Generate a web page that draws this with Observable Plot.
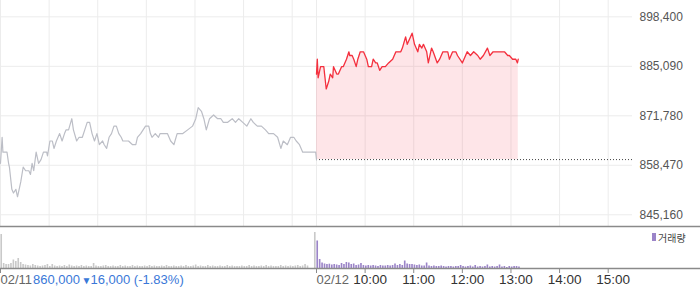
<!DOCTYPE html>
<html><head><meta charset="utf-8">
<script src="https://cdn.jsdelivr.net/npm/d3@7"></script>
<script src="https://cdn.jsdelivr.net/npm/@observablehq/plot@0.6"></script>
<style>
body{margin:0;background:#fff;}
#wrap{position:relative;width:700px;height:289px;overflow:hidden;}
#wrap svg{display:block;}
#legend{position:absolute;left:652px;top:231px;height:12px;display:flex;align-items:center;font:10px "Noto Sans CJK KR",sans-serif;color:#444;}
#legend i{display:inline-block;width:4px;height:8px;background:#9b84c8;margin-right:2px;}
</style></head><body><div id="wrap"></div>
<script>
// Previous close and price-axis ticks
const prevClose = 860000;
const yTicks = [845160, 858470, 871780, 885090, 898400];

// Day 1 (02/11): minutes after 09:00, price
const day1Min = [0,2,3,5,8,10,11,14,16,19,
 21,23,25,28,31,35,37,39,41,44,
 47,50,53,57,58,61,64,66,69,73,
 76,79,81,84,88,90,94,97,101,104,
 107,110,113,116,119,122,126,128,131,134,
 137,140,143,146,149,151,154,158,163,167,
 169,173,176,179,183,185,187,191,195,197,
 200,206,210,214,218,225,231,237,241,244,
 248,251,254,258,263,268,272,275,280,286,
 290,294,299,304,309,312,317,322,327,331,
 337,342,346,349,354,358,362,365,369,373,
 376,383,389,390];
const day1Price = [859000,866000,862000,862000,862000,859000,858000,852000,851000,852000,
 850000,852000,854000,858000,857000,857000,856000,859000,857000,862000,
 859000,860000,862000,862000,861000,865000,865000,863000,865000,867000,
 865000,867000,868000,868000,871000,868000,865000,866000,866000,868000,
 870000,870000,867000,865000,867000,864000,865000,864000,863000,866000,
 867000,869000,869000,867000,866000,865000,865000,865000,864000,864000,
 866000,867000,868000,869000,869000,867000,866000,867000,866000,867000,
 867000,867000,865000,864000,867000,867000,868000,869000,871000,874000,
 873000,871000,868000,871000,872000,871000,871000,870000,870000,871000,
 870000,871000,870000,869000,871000,870000,869000,869000,868000,867000,
 867000,866000,863000,865000,864000,866000,866000,865000,864000,862000,
 862000,862000,862000,860000];

// Day 2 (02/12): minutes after 09:00, price
const day2Min = [0,1,2,5,9,10,12,15,17,20,
 21,25,27,31,33,37,40,41,44,46,
 49,51,54,58,62,64,68,70,73,75,
 78,81,85,89,94,98,100,104,106,110,
 112,116,118,121,125,127,130,132,136,138,
 142,144,149,152,156,158,162,164,168,172,
 174,180,184,186,190,194,199,202,206,211,
 214,218,223,227,232,236,238,242,246,248,
 249];
const day2Price = [883000,887000,882000,885000,885000,883000,879000,881000,883000,882000,
 885000,883000,883000,885000,885000,887000,889000,888000,888000,887000,
 885000,887000,889000,889000,887000,885000,885000,887000,886000,886000,
 884000,885000,885000,886000,887000,889000,889000,889000,890000,893000,
 891000,893000,894000,891000,889000,891000,890000,891000,889000,886000,
 890000,889000,886000,887000,889000,889000,889000,887000,889000,889000,
 888000,886000,888000,889000,888000,889000,888000,887000,888000,890000,
 888000,889000,889000,889000,889000,888000,888000,887000,887000,886000,
 887000];

// Volume in 3-minute bins from 09:00 (thousand shares)
const day1Vol = [34,5,4,4,5,8.5,7,10,6,4,
 3.5,3,2.5,4,3,2.5,2,2.5,3,4,
 2,4,2.5,2,2.5,2,3,2,3.5,2.5,
 2,2.5,2,3,2,2.5,2,2,5,2.5,
 2,2,2.5,3,2,2,2.5,2,2,3,
 2,2.5,2,2,3,2,2.5,2,2,2.5,
 2,3,2,2.5,2,2,2.5,2,3,2,
 2,2.5,2,2,2.5,2,3,2,2,2.5,
 3.5,2,2.5,2,2,3,2,2.5,2,2,
 2.5,2,2,3,2,2.5,2,2,2,2.5,
 2,2,3,2,2.5,2,2,2.5,2,3,
 2,2.5,2,2,2,3,2,2.5,2,2.5,
 2,2.5,3,2,2.5,4,2.5,0,0,36];
const day2Vol = [27.5,9,5.5,4.5,4,4.3,3.5,4,3.5,3,
 5,4,6,5.5,4,4.5,3,3.5,5,3,
 2.5,3,2.5,3,2.5,2,3,2.5,2.5,3,
 2.5,3,4.5,3,4,3,7.5,4.5,4,4,
 3.5,3,3.5,2.5,2.5,5.5,2.5,2,2.5,2,
 2,2.5,2,1.5,2,2,1.5,2,2,3,
 2,1.5,2,2.5,1.5,3,1.5,2,1.5,2,
 3.5,1.5,2,1.5,2,3.5,1.5,2,1,2,
 1.5,2,2,1.5];

// Time axis
const dateTicks = [0, 390];
const dateLabels = ["02/11", "02/12"];
const timeTicks = [450, 510, 570, 630, 690, 750];
const timeLabels = ["10:00", "11:00", "12:00", "13:00", "14:00", "15:00"];
const gridMinutes = [0, 60, 120, 180, 240, 300, 360, 390, 450, 510, 570, 630, 690, 750];
const dayInfo = ["860,000", "▼", "16,000 (-1.83%)"];

const d1 = day1Min.map((m, i) => ({x: m, p: day1Price[i]}));
const d2 = day2Min.map((m, i) => ({x: 390 + m, p: day2Price[i]}));
const v1 = day1Vol.map((v, i) => ({x1: i * 3, x2: i * 3 + 3, v}));
const v2 = day2Vol.map((v, i) => ({x1: 390 + i * 3, x2: 390 + i * 3 + 3, v}));

const font = "'Liberation Sans', Arial, sans-serif";

const main = Plot.plot({
  width: 700, height: 227,
  marginLeft: 0, marginRight: 68, marginTop: 0, marginBottom: 1,
  style: {fontFamily: font, fontSize: "12px", background: "transparent", overflow: "visible"},
  x: {domain: [0, 780], axis: null},
  y: {domain: [842000, 902800], axis: null},
  marks: [
    Plot.ruleX(gridMinutes, {stroke: "#ececec"}),
    Plot.ruleY(yTicks, {stroke: "#ececec"}),
    Plot.areaY(d2, {x: "x", y1: () => prevClose, y2: "p", fill: "#f53246", fillOpacity: 0.127}),
    Plot.ruleY([{y: prevClose, a: 390, b: 780}], {y: "y", x1: "a", x2: "b", stroke: "#444", strokeDasharray: "1,2"}),
    Plot.line(d1, {x: "x", y: "p", stroke: "#bcbec6", strokeWidth: 1.2}),
    Plot.line(d2, {x: "x", y: "p", stroke: "#f4303e", strokeWidth: 1.3}),
    Plot.axisY({anchor: "right", ticks: yTicks, tickFormat: d3.format(","), tickSize: 0, tickPadding: 7, fill: "#555", fontSize: 12}),
    Plot.ruleY([842000], {stroke: "#8a8a8a", strokeWidth: 1.5, insetRight: -68})
  ]
});

const vol = Plot.plot({
  width: 700, height: 62,
  marginLeft: 0, marginRight: 68, marginTop: 1, marginBottom: 21,
  style: {fontFamily: font, fontSize: "13px", background: "transparent", overflow: "visible"},
  x: {domain: [0, 780], axis: null},
  y: {domain: [0, 40], axis: null},
  marks: [
    Plot.rectY(v1, {x1: "x1", x2: "x2", y: "v", fill: "#c9c9c9", insetLeft: 0.4, insetRight: 0.4}),
    Plot.rectY(v2, {x1: "x1", x2: "x2", y: "v", fill: "#9b84c8", insetLeft: 0.4, insetRight: 0.4}),
    Plot.ruleY([0], {stroke: "#8a8a8a", strokeWidth: 1.5, insetRight: -68}),
    Plot.axisX({ticks: dateTicks.concat(timeTicks), tickSize: 5, tickFormat: () => "", stroke: "#8a8a8a"}),
    Plot.text(dateTicks, {x: d => d, text: (d, i) => dateLabels[i], frameAnchor: "bottom", dy: 15, textAnchor: "start", fill: "#666", fontSize: 13}),
    Plot.text(timeTicks, {x: d => d, text: (d, i) => timeLabels[i], frameAnchor: "bottom", dy: 15, dx: 5, textAnchor: "middle", fill: "#333", fontSize: 13.5}),
    Plot.text([0], {x: d => d, text: () => dayInfo[0], frameAnchor: "bottom", dy: 15, dx: 32.5, textAnchor: "start", fill: "#3a78d8", fontSize: 13}),
    Plot.text([0], {x: d => d, text: () => dayInfo[1], frameAnchor: "bottom", dy: 15, dx: 81, textAnchor: "start", fill: "#3a78d8", fontSize: 10}),
    Plot.text([0], {x: d => d, text: () => dayInfo[2], frameAnchor: "bottom", dy: 15, dx: 90, textAnchor: "start", fill: "#3a78d8", fontSize: 13})
  ]
});

const wrap = document.getElementById("wrap");
wrap.append(main, vol);
const lg = document.createElement("div");
lg.id = "legend";
lg.innerHTML = "<i></i>거래량";
wrap.append(lg);
</script>
</body></html>
